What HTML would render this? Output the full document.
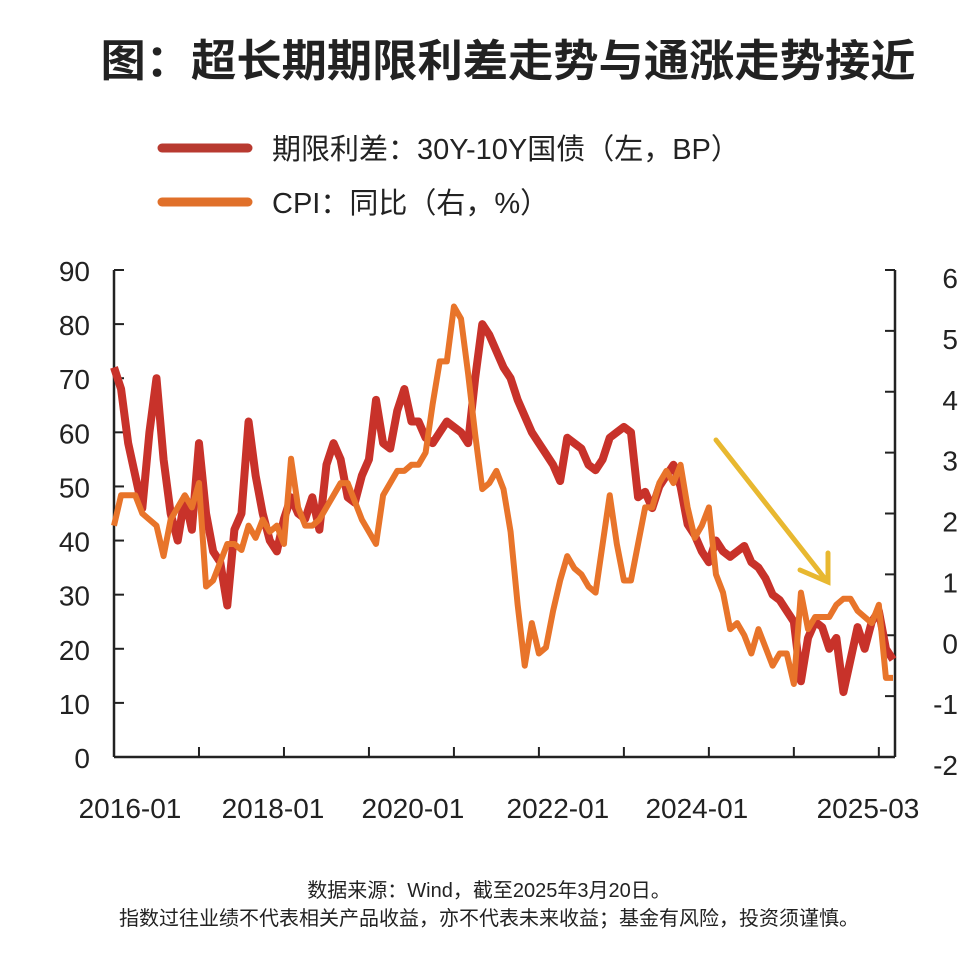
<!DOCTYPE html>
<html><head><meta charset="utf-8">
<style>
html,body{margin:0;padding:0;background:#fff;}
body{width:979px;height:950px;overflow:hidden;font-family:"Liberation Sans","Noto Sans CJK SC",sans-serif;}
svg text{font-family:"Liberation Sans","Noto Sans CJK SC",sans-serif;fill:#222;}
</style></head>
<body>
<svg id="chart" width="979" height="950" viewBox="0 0 979 950" xmlns="http://www.w3.org/2000/svg">
  <text x="508" y="76" text-anchor="middle" font-size="44" font-weight="bold" fill="#111" textLength="815" lengthAdjust="spacingAndGlyphs">图：超长期期限利差走势与通涨走势接近</text>
  <g>
    <line x1="162" y1="148" x2="248" y2="148" stroke="#b83a30" stroke-width="9" stroke-linecap="round"/>
    <text x="272" y="159" font-size="29">期限利差：30Y-10Y国债（左，BP）</text>
    <line x1="162" y1="202" x2="248" y2="202" stroke="#e0702a" stroke-width="9" stroke-linecap="round"/>
    <text x="272" y="213" font-size="29">CPI：同比（右，%）</text>
  </g>
  <g id="axes"></g>
  <g id="series"></g>
  <g stroke="#e8b830" stroke-width="5" stroke-linecap="round" fill="none">
    <line x1="716" y1="440" x2="826" y2="580"/>
    <polyline points="800,570 828,582 828,553"/>
  </g>
  <text x="489" y="897" text-anchor="middle" font-size="20">数据来源：Wind，截至2025年3月20日。</text>
  <text x="489" y="925" text-anchor="middle" font-size="20">指数过往业绩不代表相关产品收益，亦不代表未来收益；基金有风险，投资须谨慎。</text>
</svg>
<script>
// data (monthly, starting 2016-01)
const spread = [
72,68,58,52,46,60,70,55,45,40,48,42,
58,45,38,36,28,42,45,62,52,45,40,38,
44,48,45,44,48,42,54,58,55,48,47,52,
55,66,58,57,64,68,62,62,59,58,60,62,
61,60,58,70,80,78,75,72,70,66,63,60,
58,56,54,51,59,58,57,54,53,55,59,60,
61,60,48,49,46,50,52,54,50,43,41,38,
36,40,38,37,38,39,36,35,33,30,29,27,
25,14,22,25,24,20,22,12,18,24,20,25,
27,20,18];
const cpi = [
1.8,2.3,2.3,2.3,2.0,1.9,1.8,1.3,1.9,2.1,2.3,2.1,
2.5,0.8,0.9,1.2,1.5,1.5,1.4,1.8,1.6,1.9,1.7,1.8,
1.5,2.9,2.1,1.8,1.8,1.9,2.1,2.3,2.5,2.5,2.2,1.9,
1.7,1.5,2.3,2.5,2.7,2.7,2.8,2.8,3.0,3.8,4.5,4.5,
5.4,5.2,4.3,3.3,2.4,2.5,2.7,2.4,1.7,0.5,-0.5,0.2,
-0.3,-0.2,0.4,0.9,1.3,1.1,1.0,0.8,0.7,1.5,2.3,1.5,
0.9,0.9,1.5,2.1,2.1,2.5,2.7,2.5,2.8,2.1,1.6,1.8,
2.1,1.0,0.7,0.1,0.2,0.0,-0.3,0.1,-0.2,-0.5,-0.3,-0.3,
-0.8,0.7,0.1,0.3,0.3,0.3,0.5,0.6,0.6,0.4,0.3,0.2,
0.5,-0.7,-0.7];
const leftTicks = [0,10,20,30,40,50,60,70,80,90];
const rightTicks = [-2,-1,0,1,2,3,4,5,6];
const xLabels = ["2016-01","2018-01","2020-01","2022-01","2024-01","2025-03"];
const xLabelMonths = [0,24,48,72,96,110];

const NS = "http://www.w3.org/2000/svg";
const X0 = 114, X1 = 893, YT = 270, YB = 757;
const nMonths = 110;
const xScale = m => X0 + m * (X1 - X0) / nMonths;
const yLeft = v => YB - (v - 0) / 90 * (YB - YT);
const yRight = v => YB - (v + 2) / 8 * (YB - YT);

function mk(tag, attrs, parent) {
  const e = document.createElementNS(NS, tag);
  for (const k in attrs) e.setAttribute(k, attrs[k]);
  parent.appendChild(e);
  return e;
}
const axes = document.getElementById('axes');
const series = document.getElementById('series');

const la = mk('line', {x1:X0,y1:YT,x2:X0,y2:YB,stroke:'#222','stroke-width':2.5}, axes);


const ra = mk('line', {x1:X1+2,y1:YT,x2:X1+2,y2:YB,stroke:'#222','stroke-width':2.5}, axes);


const xa = mk('line', {x1:X0,y1:YB,x2:X1+2,y2:YB,stroke:'#222','stroke-width':2.5}, axes);



leftTicks.forEach(v => {
  const y = yLeft(v);
  mk('line', {x1:X0,y1:y,x2:X0+10,y2:y,stroke:'#222','stroke-width':2}, axes);
  const t = mk('text', {x:X0-24,y:y+11,'text-anchor':'end','font-size':28}, axes);
  t.textContent = v;
  
  
});
rightTicks.forEach(v => {
  const y = yRight(v);
  mk('line', {x1:X1-8,y1:y,x2:X1+2,y2:y,stroke:'#222','stroke-width':2}, axes);
  const t = mk('text', {x:958,y:y+18,'text-anchor':'end','font-size':28}, axes);
  t.textContent = v;
  
  
});
for (let yr = 1; yr <= 9; yr++) {
  const x = xScale(yr * 12);
  mk('line', {x1:x,y1:YB-10,x2:x,y2:YB,stroke:'#222','stroke-width':2}, axes);
}
const labelOffsets = [16, -11, -41, -66, -97, -25];
xLabels.forEach((s, i) => {
  const t = mk('text', {x:xScale(xLabelMonths[i]) + labelOffsets[i], y:818,'text-anchor':'middle','font-size':28}, axes);
  t.textContent = s;
  
  
});

const sp = mk('polyline', {points: spread.map((v,i)=>xScale(i)+','+yLeft(v)).join(' '), fill:'none', stroke:'#c8322a','stroke-width':8,'stroke-linejoin':'round'}, series);


const cp = mk('polyline', {points: cpi.map((v,i)=>xScale(i)+','+yRight(v)).join(' '), fill:'none', stroke:'#e8742a','stroke-width':6,'stroke-linejoin':'round'}, series);


</script>
</body></html>
